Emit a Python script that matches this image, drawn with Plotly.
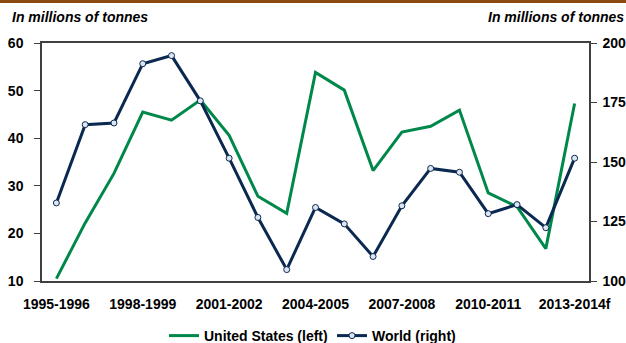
import plotly.graph_objects as go

seasons = ["1995-1996","1996-1997","1997-1998","1998-1999","1999-2000","2000-2001",
           "2001-2002","2002-2003","2003-2004","2004-2005","2005-2006","2006-2007",
           "2007-2008","2008-2009","2009-2010","2010-2011","2011-2012","2012-2013","2013-2014f"]
us_left = [10.5, 22.2, 32.6, 45.5, 43.8, 48.0, 40.6, 27.8, 24.2, 53.8, 50.1, 33.2,
           41.3, 42.5, 45.9, 28.5, 25.6, 16.8, 47.3]
world_right = [132.8, 165.7, 166.4, 191.3, 194.7, 175.7, 151.6, 126.7, 104.8, 130.9, 124.0,
               110.3, 131.6, 147.3, 145.7, 128.3, 132.1, 122.4, 151.6]
tick_labels = ["1995-1996","1998-1999","2001-2002","2004-2005","2007-2008","2010-2011","2013-2014f"]
left_ticks = [10, 20, 30, 40, 50, 60]
right_ticks = [100, 125, 150, 175, 200]

FONT = "Liberation Sans, Arial, sans-serif"
GREEN = "#00884A"
NAVY = "#0B2850"
AXIS = "#404040"

W, H = 626, 343
ML, MR, MT, MB = 42, 37, 43, 62
PH = H - MT - MB
PW = W - ML - MR

def py(pix):
    # pixel row from top -> paper y
    return (H - MB - pix) / PH

def px(pix):
    return (pix - ML) / PW

xfont = dict(family=FONT, size=14, color="black", weight="bold")
yfont = dict(family=FONT, size=14, color="black", weight="bold")

fig = go.Figure()
fig.add_trace(go.Scatter(x=seasons, y=us_left, mode="lines", name="United States (left)",
                         line=dict(color=GREEN, width=3), yaxis="y"))
fig.add_trace(go.Scatter(x=seasons, y=world_right, mode="lines+markers", name="World (right)",
                         line=dict(color=NAVY, width=3),
                         marker=dict(size=6, color="#DCE6F2", line=dict(color=NAVY, width=1)),
                         yaxis="y2"))

fig.update_layout(
    width=W, height=H,
    margin=dict(l=ML, r=MR, t=MT, b=MB, autoexpand=False),
    paper_bgcolor="white", plot_bgcolor="white",
    font=dict(family=FONT, size=12, color="black"),
    showlegend=True,
    legend=dict(orientation="h", xref="container", yref="container",
                x=164 / W, xanchor="left", y=1 - 336 / H, yanchor="middle",
                font=dict(family=FONT, size=14, color="black", weight="bold"),
                entrywidth=123, entrywidthmode="pixels",
                tracegroupgap=0, bgcolor="rgba(0,0,0,0)"),
    xaxis=dict(type="category", range=[-0.5, 18.5], tickmode="array",
               tickvals=tick_labels, ticktext=tick_labels,
               showline=True, linecolor=AXIS, linewidth=1.5, mirror=True,
               ticks="", showgrid=False, zeroline=False, ticklabelstandoff=9,
               tickfont=xfont),
    yaxis=dict(range=[10, 60], tickvals=left_ticks, showline=True, linecolor=AXIS, linewidth=1.5,
               ticks="outside", ticklen=6, tickcolor=AXIS, tickwidth=1,
               showgrid=False, zeroline=False, ticklabelstandoff=8,
               tickfont=yfont),
    yaxis2=dict(range=[100, 200], tickvals=right_ticks, overlaying="y", side="right",
                showline=True, linecolor=AXIS, linewidth=1.5,
                ticks="outside", ticklen=6, tickcolor=AXIS, tickwidth=1,
                showgrid=False, zeroline=False, ticklabelstandoff=3,
                tickfont=yfont),
    shapes=[dict(type="rect", xref="paper", yref="paper", x0=px(-10), x1=px(W + 10),
                 y0=py(3), y1=py(-2),
                 fillcolor="#8B4A0E", line=dict(width=0), layer="above")],
    annotations=[
        dict(text="<b><i>In millions of tonnes</i></b>", xref="paper", yref="paper",
             x=px(10), y=py(17), xanchor="left", yanchor="middle",
             showarrow=False, font=dict(family=FONT, size=14, color="black")),
        dict(text="<b><i>In millions of tonnes</i></b>", xref="paper", yref="paper",
             x=px(626), y=py(17), xanchor="right", yanchor="middle",
             showarrow=False, font=dict(family=FONT, size=14, color="black")),
    ],
)

fig.write_html("out.html")
